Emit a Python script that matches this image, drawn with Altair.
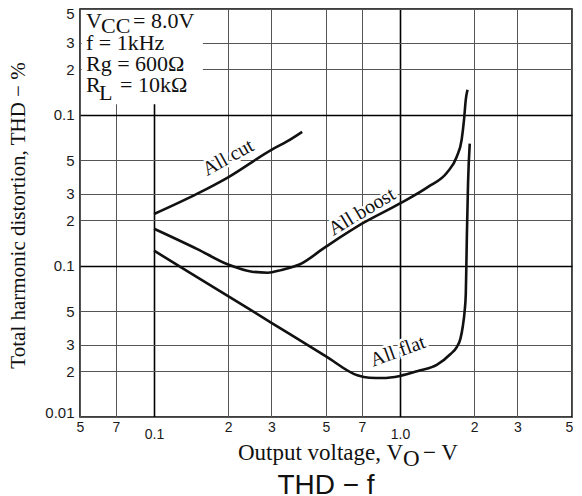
import altair as alt
import pandas as pd

# ---- axis ticks and printed labels ----
x_ticks = [0.05, 0.07, 0.1, 0.2, 0.3, 0.5, 0.7, 1.0, 2, 3, 5]
x_tick_labels = ["5", "7", "0.1", "2", "3", "5", "7", "1.0", "2", "3", "5"]
y_ticks = [0.01, 0.02, 0.03, 0.05, 0.1, 0.2, 0.3, 0.5, 1.0, 2, 3, 5]
y_tick_labels = ["0.01", "2", "3", "5", "0.1", "2", "3", "5", "0.1", "2", "3", "5"]
major_lines = [0.1, 1.0]

# ---- curves (Output voltage V, THD %) ----
cut_vo = [0.1, 0.15, 0.2, 0.3, 0.35, 0.40]
cut_thd = [0.22, 0.30, 0.385, 0.585, 0.67, 0.77]

boost_vo = [0.1, 0.15, 0.2, 0.25, 0.29, 0.33, 0.39, 0.5, 0.7, 1.0, 1.3, 1.55,
            1.7, 1.78, 1.82, 1.85, 1.88]
boost_thd = [0.176, 0.129, 0.102, 0.0915, 0.090, 0.094, 0.102, 0.134, 0.19,
             0.259, 0.333, 0.413, 0.527, 0.683, 0.926, 1.256, 1.46]

flat_vo = [0.1, 0.2, 0.3, 0.5, 0.67, 0.75, 0.85, 1.0, 1.2, 1.41, 1.6, 1.7,
           1.76, 1.80, 1.83, 1.85, 1.86, 1.87, 1.89, 1.92]
flat_thd = [0.126, 0.063, 0.042, 0.0252, 0.0189, 0.0182, 0.0181, 0.0187,
            0.0203, 0.0221, 0.026, 0.029, 0.033, 0.040, 0.050, 0.065, 0.10,
            0.165, 0.355, 0.643]

curve_names = ["All cut", "All boost", "All flat"]
curve_label_vo = [0.20, 0.70, 0.98]
curve_label_thd = [0.52, 0.228, 0.0272]
curve_label_angle = [331, 329, 340]

# white condition box in upper left (data coords)
box_vo = [0.0508, 0.158]
box_thd = [1.174, 4.93]

SERIF = "Liberation Serif"
SANS = "Liberation Sans"

# ---- build data tables ----
rows = []
for name, xs_, ys_ in [("All cut", cut_vo, cut_thd),
                       ("All boost", boost_vo, boost_thd),
                       ("All flat", flat_vo, flat_thd)]:
    for a, b in zip(xs_, ys_):
        rows.append({"series": name, "vo": a, "thd": b})
curves = pd.DataFrame(rows)
labels_df = pd.DataFrame({"text": curve_names, "vo": curve_label_vo,
                          "thd": curve_label_thd, "ang": curve_label_angle})
box_df = pd.DataFrame({"vo": [box_vo[0]], "vo2": [box_vo[1]],
                       "thd": [box_thd[0]], "thd2": [box_thd[1]]})


def label_expr(vals, labs, multiline=False, pad=""):
    parts = []
    for v, l in zip(vals, labs):
        if "." in l:
            lit = "['', '%s']" % l if multiline else "'%s%s'" % (l, pad)
        else:
            lit = "'%s'" % l
        parts.append("datum.value == %r ? %s" % (float(v), lit))
    return " : ".join(parts) + " : ''"


major_test = " || ".join("datum.value == %r" % float(v) for v in major_lines)
grid_color = {"condition": {"test": major_test, "value": "#000000"}, "value": "#555555"}
grid_width = {"condition": {"test": major_test, "value": 1.6}, "value": 1.0}

x_axis = alt.Axis(values=x_ticks, labelExpr=label_expr(x_ticks, x_tick_labels, multiline=True),
                  grid=True, gridColor=grid_color, gridWidth=grid_width,
                  ticks=False, domain=False, labelFont=SANS, labelFontSize=14,
                  labelColor="#1a1a1a", labelPadding=3, labelBaseline="top",
                  labelLineHeight=7, labelOverlap=False, labelFlush=False, title=None,
                  labelOffset={"condition": {"test": "datum.value == 5", "value": -3}, "value": 0})
y_axis = alt.Axis(values=y_ticks, labelExpr=label_expr(y_ticks, y_tick_labels, pad="\u2002"),
                  grid=True, gridColor=grid_color, gridWidth=grid_width,
                  ticks=False, domain=False, labelFont=SANS, labelFontSize=15,
                  labelColor="#1a1a1a", labelPadding=6, labelOverlap=False, labelFlush=False,
                  labelOffset={"condition": {"test": "datum.value == 5", "value": 4}, "value": 0},
                  labelBaseline={"condition": {"test": "datum.value == 0.01", "value": "alphabetic"},
                                 "value": "middle"},
                  title="Total harmonic distortion, THD  \u2212  %", titleFont=SERIF,
                  titleFontSize=21, titleFontWeight="normal", titleColor="#111",
                  titleX=-52, titleY=206)

xs = alt.Scale(type="log", domain=[0.05, 5], nice=False)
ys = alt.Scale(type="log", domain=[0.01, 5], nice=False)
X = alt.X("vo:Q", scale=xs, axis=x_axis)
Y = alt.Y("thd:Q", scale=ys, axis=y_axis)

box = alt.Chart(box_df).mark_rect(fill="white").encode(
    x=X, x2="vo2:Q", y=Y, y2="thd2:Q")

lines = alt.Chart(curves).mark_line(color="#111", strokeWidth=2.6,
                                    interpolate="monotone").encode(
    x=X, y=Y, detail="series:N")

halo = alt.Chart(labels_df).mark_text(font=SERIF, fontSize=20, color="white",
                                      stroke="white", strokeWidth=5).encode(
    x=X, y=Y, text="text:N", angle=alt.Angle("ang:Q", scale=None))
lab = alt.Chart(labels_df).mark_text(font=SERIF, fontSize=20, color="#111").encode(
    x=X, y=Y, text="text:N", angle=alt.Angle("ang:Q", scale=None))

dummy = pd.DataFrame({"a": [0]})


def txt(t, px, py, size=22, font=SERIF, align="left"):
    return alt.Chart(dummy).mark_text(text=t, font=font, fontSize=size, align=align,
                                      baseline="alphabetic", color="#111").encode(
        x=alt.value(px), y=alt.value(py))


annotations = [
    txt("V", 6, 19), txt("CC", 21, 24), txt("= 8.0V", 53, 19),
    txt("f = 1kHz", 6, 41),
    txt("Rg = 600\u03a9", 6, 62),
    txt("R", 6, 83), txt("L", 19, 91), txt("= 10k\u03a9", 40, 83),
    txt("Output voltage, V", 323, 451, size=23, align="right"),
    txt("O", 323, 457, size=23), txt("\u2212 V", 343, 451, size=23),
    txt("THD  \u2212  f", 246, 485, size=28, font=SANS, align="center"),
]

chart = alt.layer(box, lines, halo, lab, *annotations).properties(
    width=492, height=408,
    autosize=alt.AutoSizeParams(type="none"),
    padding={"left": 72, "top": 1, "right": 2, "bottom": 79},
).configure_view(stroke="black", strokeWidth=1.5)

chart.save("out.html", embed_options={"renderer": "svg", "actions": False})
